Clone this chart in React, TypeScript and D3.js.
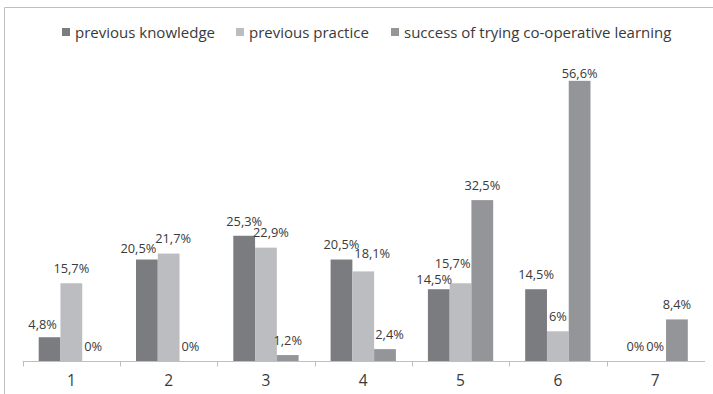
import React from "react";
import * as d3 from "d3";

const categories = ["1", "2", "3", "4", "5", "6", "7"];
const seriesNames = ["previous knowledge", "previous practice", "success of trying co-operative learning"];
const previousKnowledge = [4.8, 20.5, 25.3, 20.5, 14.5, 14.5, 0];
const previousPractice = [15.7, 21.7, 22.9, 18.1, 15.7, 6, 0];
const successCooperative = [0, 0, 1.2, 2.4, 32.5, 56.6, 8.4];
const seriesValues = [previousKnowledge, previousPractice, successCooperative];

const colors = ["#7b7c80", "#bcbdc1", "#949599"];

// manual label nudges (as in the original chart) keyed "series-category"
const labelNudge: Record<string, [number, number]> = {
  "0-0": [-7, 2],
  "0-1": [-8.5, 4],
  "1-1": [4.5, 0],
  "1-2": [5, 0],
  "1-3": [9, -3],
  "2-3": [4.5, 0],
  "0-4": [-4.5, 4.5],
  "1-4": [-8, -5.5],
  "2-5": [0, 7],
  "0-6": [2, 0],
};

const W = 713;
const H = 394;
const FONT = "'Open Sans', sans-serif";

function fmt(v: number) {
  return String(v).replace(".", ",") + "%";
}

export default function App() {
  const x0 = d3.scaleBand<string>().domain(categories).range([22.7, 703.8]).padding(0);
  const bw = x0.bandwidth();
  const x1 = d3.scaleBand<number>().domain([0, 1, 2]).range([16, bw - 16]).padding(0);
  const y = d3.scaleLinear().domain([0, 60]).range([361, 64]);

  const legendX = [62, 236, 391];

  return (
    <svg width={W} height={H} style={{ position: "absolute", left: 0, top: 0, background: "#fff" }}>
      <rect x={0} y={0} width={W} height={H} fill="#fff" />
      <line x1={4.5} y1={7.5} x2={W} y2={7.5} stroke="#bfbfbf" />
      <line x1={4.5} y1={7.5} x2={4.5} y2={H} stroke="#bfbfbf" />

      {/* legend */}
      {seriesNames.map((name, i) => (
        <g key={name}>
          <rect x={legendX[i]} y={28} width={8} height={8} fill={colors[i]} />
          <text x={legendX[i] + 13} y={37.5} fontFamily={FONT} fontSize={15} fill="#3a3a3a">
            {name}
          </text>
        </g>
      ))}

      {/* bars */}
      {seriesValues.map((vals, s) =>
        vals.map((v, c) => (
          <rect
            key={`b${s}-${c}`}
            x={(x0(categories[c]) as number) + (x1(s) as number)}
            y={y(v)}
            width={x1.bandwidth()}
            height={y(0) - y(v)}
            fill={colors[s]}
          />
        ))
      )}

      {/* axis */}
      <line x1={x0.range()[0]} x2={705} y1={361.5} y2={361.5} stroke="#bfbfbf" />
      {categories.map((c) => (
        <line
          key={`t${c}`}
          x1={Math.round(x0(c) as number) + 0.5}
          x2={Math.round(x0(c) as number) + 0.5}
          y1={361.5}
          y2={366.5}
          stroke="#bfbfbf"
        />
      ))}
      {categories.map((c) => (
        <text
          key={`l${c}`}
          x={(x0(c) as number) + bw / 2}
          y={386}
          textAnchor="middle"
          fontFamily={FONT}
          fontSize={15.5}
          fill="#3a3a3a"
        >
          {c}
        </text>
      ))}

      {/* data labels */}
      {seriesValues.map((vals, s) =>
        vals.map((v, c) => {
          const n = labelNudge[`${s}-${c}`] || [0, 0];
          const cx = (x0(categories[c]) as number) + (x1(s) as number) + x1.bandwidth() / 2 + n[0];
          const cy = y(v) - 15 + n[1];
          return (
            <text
              key={`v${s}-${c}`}
              x={cx}
              y={cy + 4.8}
              textAnchor="middle"
              fontFamily={FONT}
              fontSize={12.8}
              fill="#3a3a3a"
            >
              {fmt(v)}
            </text>
          );
        })
      )}
    </svg>
  );
}
